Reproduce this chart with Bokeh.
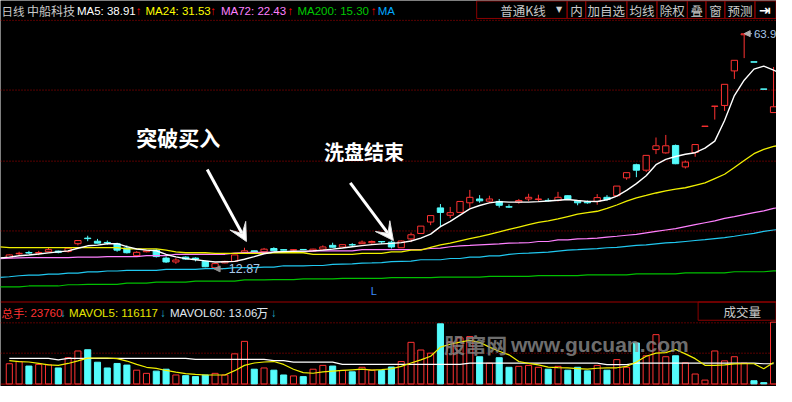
from bokeh.plotting import figure
from bokeh.models import Range1d, Label, Arrow, VeeHead, NormalHead
from bokeh.embed import file_html
from bokeh.resources import INLINE

# ---------------- data (price in yuan, volume in lots) ----------------
idx = list(range(79))
opens = [15.17, 16.05, 16.32, 16.21, 16.49, 16.63, 16.53, 18.24, 19.45, 18.78,
         18.51, 18.24, 17.32, 15.65, 16.49, 16.84, 15.11, 14.27, 15.32, 15.11,
         14.40, 13.02, 14.06, 14.40, 16.36, 16.69, 16.49, 17.19, 16.94, 16.84,
         16.99, 16.63, 17.05, 17.88, 17.53, 18.03, 18.24, 18.45, 18.72, 18.57,
         17.36, 19.28, 20.45, 22.95, 26.02, 24.42, 25.04, 27.13, 27.96, 27.48,
         27.42, 26.27, 27.28, 27.96, 27.84, 27.65, 27.63, 28.67, 27.48, 27.38,
         27.42, 28.32, 28.67, 32.55, 35.41, 34.22, 38.69, 37.98, 39.59, 34.93,
         38.06, 43.74, 48.10, 48.29, 55.80, 63.65, 57.78, 51.88, 46.74]
closes = [15.80, 16.15, 16.21, 16.32, 16.94, 16.36, 17.26, 18.93, 19.34, 18.36,
          18.41, 16.84, 16.28, 16.36, 16.69, 15.44, 14.27, 14.69, 14.90, 14.86,
          13.23, 13.91, 14.40, 15.80, 16.69, 16.36, 17.05, 16.69, 16.84, 16.94,
          16.94, 17.05, 17.53, 17.47, 18.03, 17.97, 18.57, 18.72, 18.63, 17.53,
          18.82, 20.18, 22.06, 24.35, 25.04, 24.98, 27.42, 28.32, 27.55, 27.96,
          26.59, 26.19, 27.63, 28.32, 27.96, 27.59, 28.32, 27.96, 27.13, 27.13,
          28.26, 27.84, 30.76, 33.68, 34.22, 37.44, 39.52, 39.52, 35.62, 35.98,
          39.79, 43.79, 48.14, 52.88, 58.10, 63.86, 57.70, 51.80, 48.00]
highs = [15.90, 16.49, 16.69, 16.69, 17.36, 16.74, 17.32, 19.03, 19.97, 19.28,
         18.93, 18.45, 17.88, 16.63, 16.84, 17.05, 15.44, 15.11, 15.48, 15.27,
         14.54, 14.02, 14.54, 15.80, 17.36, 16.74, 17.32, 17.47, 17.05, 17.05,
         17.05, 17.15, 17.88, 18.45, 18.09, 18.36, 18.93, 18.93, 18.72, 18.93,
         18.93, 20.66, 22.06, 24.35, 26.86, 26.23, 27.42, 29.93, 28.80, 28.67,
         27.96, 26.80, 27.96, 29.09, 28.88, 28.11, 29.51, 28.80, 27.63, 27.63,
         29.01, 28.80, 30.76, 33.68, 35.62, 37.44, 41.32, 41.88, 39.79, 36.31,
         39.79, 43.79, 48.14, 52.88, 58.10, 63.90, 57.78, 51.88, 56.64]
lows = [15.07, 15.65, 16.00, 15.73, 16.42, 16.15, 16.32, 17.88, 18.78, 18.30,
        18.03, 16.49, 16.11, 15.44, 16.36, 15.23, 14.06, 13.85, 14.75, 14.40,
        13.12, 12.87, 13.96, 14.34, 16.32, 16.32, 16.15, 16.63, 16.74, 16.63,
        16.84, 16.53, 16.94, 17.36, 17.47, 17.67, 18.20, 18.24, 18.15, 17.19,
        17.32, 18.57, 20.39, 22.27, 21.85, 23.79, 24.98, 26.02, 27.13, 27.13,
        26.09, 26.02, 26.92, 27.48, 27.48, 27.42, 27.42, 27.90, 26.59, 26.92,
        26.71, 27.63, 28.59, 32.14, 32.70, 33.81, 37.71, 37.81, 35.52, 34.58,
        37.14, 43.74, 45.22, 47.10, 54.05, 58.58, 57.70, 51.80, 46.68]

ma_idx = list(range(-1, 80))
ma5 = [15.11, 15.31, 15.63, 15.79, 16.00, 16.25, 16.46, 16.67, 17.26, 17.78,
       17.94, 18.22, 18.24, 17.61, 17.09, 16.84, 16.71, 15.90, 15.38, 15.00,
       14.75, 14.50, 14.25, 14.33, 14.40, 14.86, 15.42, 16.05, 16.42, 16.52,
       16.59, 16.63, 16.67, 16.84, 17.05, 17.30, 17.57, 17.82, 18.03, 18.19,
       18.30, 18.47, 18.82, 19.45, 20.32, 21.95, 23.10, 24.46, 25.81, 26.54,
       27.11, 27.38, 27.27, 27.27, 27.27, 27.38, 27.52, 27.69, 27.84, 27.63,
       27.44, 27.42, 27.79, 28.59, 29.82, 31.30, 33.01, 35.41, 36.56, 37.19,
       37.67, 38.02, 39.00, 40.53, 45.01, 50.44, 53.78, 56.18, 56.85, 55.97,
       55.03]
ma24 = [17.57, 17.40, 17.40, 17.40, 17.40, 17.40, 17.40, 17.40, 17.40, 17.40,
        17.40, 17.40, 17.40, 17.11, 17.11, 17.11, 17.11, 16.84, 16.48, 16.27,
        16.27, 16.27, 16.15, 16.15, 16.15, 16.15, 16.15, 16.15, 16.27, 16.27,
        16.27, 16.27, 15.94, 15.94, 15.94, 15.94, 15.94, 16.15, 16.15, 16.15,
        16.48, 16.48, 16.84, 16.84, 17.46, 17.99, 18.36, 18.86, 19.34, 19.76,
        20.28, 20.80, 21.33, 21.85, 22.37, 22.89, 23.20, 23.62, 24.14, 24.66,
        24.98, 25.29, 25.92, 26.65, 27.48, 28.21, 28.73, 29.26, 29.71, 30.09,
        30.40, 30.93, 31.45, 32.39, 33.33, 34.79, 36.31, 37.81, 38.75, 39.38,
        39.79]
ma72 = [14.96, 15.11, 15.17, 15.23, 15.23, 15.23, 15.23, 15.23, 15.32, 15.32,
        15.32, 15.44, 15.44, 15.44, 15.44, 15.65, 15.65, 15.65, 15.94, 15.94,
        15.94, 15.94, 15.94, 15.94, 16.21, 16.32, 16.36, 16.36, 16.42, 16.48,
        16.48, 16.48, 16.69, 16.69, 16.69, 16.69, 16.69, 16.94, 16.94, 16.94,
        16.94, 16.94, 16.94, 16.98, 17.19, 17.26, 17.57, 17.78, 17.88, 17.99,
        18.09, 18.19, 18.36, 18.40, 18.45, 18.72, 18.72, 19.07, 19.07, 19.28,
        19.34, 19.45, 19.66, 19.86, 20.07, 20.28, 20.59, 20.91, 21.22, 21.53,
        21.95, 22.37, 22.79, 23.20, 23.73, 24.14, 24.56, 24.98, 25.39, 25.92,
        26.23]
ma_cyan = [10.93, 11.06, 11.27, 11.41, 11.41, 11.62, 11.62, 11.83, 11.83, 12.10,
           12.10, 12.31, 12.31, 12.46, 12.46, 12.46, 12.46, 12.66, 12.66, 12.66,
           12.66, 12.81, 12.81, 12.81, 13.02, 13.02, 13.02, 13.14, 13.14, 13.44,
           13.44, 13.44, 13.50, 13.50, 13.75, 13.81, 13.85, 14.02, 14.06, 14.12,
           14.33, 14.40, 14.44, 14.75, 14.75, 14.75, 15.02, 15.02, 15.32, 15.32,
           15.59, 15.59, 15.90, 16.11, 16.21, 16.32, 16.42, 16.63, 16.84, 16.94,
           17.05, 17.15, 17.36, 17.46, 17.67, 17.88, 17.99, 18.19, 18.40, 18.51,
           18.72, 18.93, 19.13, 19.34, 19.55, 19.86, 20.18, 20.49, 20.91, 21.22,
           21.43]
ma200 = [8.84, 8.84, 8.84, 9.05, 9.05, 9.05, 9.05, 9.32, 9.32, 9.39,
         9.39, 9.39, 9.39, 9.68, 9.68, 9.68, 9.89, 9.89, 9.89, 9.89,
         10.10, 10.10, 10.10, 10.10, 10.10, 10.37, 10.37, 10.37, 10.43, 10.43,
         10.43, 10.58, 10.58, 10.58, 10.58, 10.72, 10.72, 10.72, 10.72, 10.72,
         10.85, 10.85, 10.85, 10.85, 10.85, 10.99, 10.99, 10.99, 10.99, 10.99,
         11.14, 11.14, 11.14, 11.14, 11.14, 11.31, 11.31, 11.31, 11.31, 11.31,
         11.47, 11.47, 11.47, 11.47, 11.47, 11.68, 11.68, 11.68, 11.68, 11.68,
         11.89, 11.89, 11.89, 11.89, 11.89, 12.14, 12.14, 12.14, 12.14, 12.35,
         12.35]

volume = [126000, 139800, 111600, 121800, 120000, 99600, 163800, 205800, 213600, 135600,
          99600, 127800, 117600, 85800, 66000, 79800, 91800, 55800, 51600, 45600,
          55800, 66000, 55800, 187800, 265800, 91800, 99600, 85800, 55800, 49800,
          45600, 91800, 115800, 111600, 84000, 75600, 103800, 85800, 84000, 105600,
          139800, 259800, 211800, 192000, 375600, 261600, 288000, 295800, 169800, 129600,
          163800, 103800, 109800, 115800, 103800, 91800, 109800, 85800, 103800, 81600,
          115800, 85800, 151800, 103800, 255600, 175800, 307800, 169800, 175800, 132000,
          61800, 23760, 205800, 144000, 169800, 129600, 19800, 7800, 385800]
mavol5 = [145800, 139800, 136800, 127800, 118800, 115800, 127800, 144000, 160800, 162000,
          162000, 157800, 142800, 121800, 103800, 96600, 84000, 73800, 64800, 60000,
          55800, 55800, 55800, 82800, 115800, 130800, 136800, 139800, 121800, 91800,
          70800, 66600, 75000, 79800, 84000, 88200, 91800, 85800, 88800, 94800,
          109800, 130800, 150000, 172800, 229800, 247800, 261600, 273000, 259800, 229800,
          204000, 181800, 139800, 127800, 118800, 105000, 102000, 99600, 96000, 91800,
          97800, 99600, 100800, 109800, 136800, 172800, 192000, 195600, 214800, 187800,
          157800, 116117, 115800, 118800, 124800, 126000, 126000, 94800, 133800]
mavol60 = [159600, 159600, 159600, 159600, 159600, 150000, 159600, 159600, 159600, 159600,
           159600, 159600, 159600, 159600, 159600, 159600, 159600, 159600, 159600, 153600,
           153600, 153600, 153600, 153600, 153600, 153600, 153600, 145800, 145800, 135600,
           135600, 135600, 135600, 135600, 121800, 121800, 121800, 121800, 121800, 121800,
           121800, 121800, 121800, 121800, 121800, 121800, 121800, 129600, 129600, 129600,
           129600, 129600, 129600, 129600, 129600, 129600, 129600, 129600, 129600, 129600,
           129600, 120000, 120000, 120000, 129600, 129600, 129600, 129600, 129600, 129600,
           129600, 130600, 129600, 129600, 129600, 129600, 129600, 126000, 126000]

header_ma = [("MA5: 38.91", "#ffffff"), ("MA24: 31.53", "#ffff00"),
             ("MA72: 22.43", "#ff80ff"), ("MA200: 15.30", "#00c800")]
buttons = ["内", "加自选", "均线", "除权", "叠", "窗", "预测"]

# ---------------- figure ----------------
RED = "#ff3232"
CYAN = "#54fcfc"
GRID = "#b00000"
DARK = "#8b0000"
CJK = "Noto Sans CJK SC"
LAT = "Liberation Sans"

p = figure(width=776, height=386, output_backend="svg", toolbar_location=None, tools="",
           x_range=Range1d(-0.9, 78.3), y_range=Range1d(-12.80, 71.10),
           x_axis_location=None, y_axis_location=None,
           background_fill_color="black", border_fill_color="black",
           min_border=0, outline_line_color=None)
p.grid.visible = False
p.extra_x_ranges = {"px": Range1d(0, 792)}
p.extra_y_ranges = {"px": Range1d(402, 0), "vol": Range1d(-16200, 2395800)}
PX = dict(x_range_name="px", y_range_name="px")

# frame chrome (layout in window pixels)
gy = [20.7, 93.3, 167.3, 240.0, 335.7, 367.3]
p.segment(x0=[0] * len(gy), x1=[792] * len(gy), y0=gy, y1=gy, line_color=GRID,
          line_dash="1 2", line_width=1, **PX)
p.segment(x0=[0, 0], x1=[792, 792], y0=[314.0, 399.5], y1=[314.0, 399.5],
          line_color="#a00000", line_width=1, **PX)
seps = [486, 578.3, 597.3, 639.3, 670, 701, 720, 739.3, 770, 791.5]
p.quad(left=seps[:-1], right=seps[1:], top=0.5, bottom=18.7, fill_color=None,
       line_color=DARK, line_width=1, **PX)
p.quad(left=[712], right=[791.5], top=[314], bottom=[333], fill_color=None,
       line_color=DARK, line_width=1, **PX)

# candles
up = [c >= o for o, c in zip(opens, closes)]
btop = [max(o, c) for o, c in zip(opens, closes)]
bbot = [min(o, c) for o, c in zip(opens, closes)]
for flag, col, fill in ((True, RED, "black"), (False, CYAN, CYAN)):
    xs = [i for i in idx if up[i] == flag]
    p.segment(x0=xs, x1=xs, y0=[highs[i] for i in xs], y1=[btop[i] for i in xs], line_color=col, line_width=1)
    p.segment(x0=xs, x1=xs, y0=[bbot[i] for i in xs], y1=[lows[i] for i in xs], line_color=col, line_width=1)
    p.vbar(x=xs, width=0.64, top=[btop[i] for i in xs], bottom=[bbot[i] for i in xs],
           fill_color=fill, line_color=col, line_width=1)

# moving averages
p.line(ma_idx, ma200, line_color="#00c000", line_width=1.2)
p.line(ma_idx, ma_cyan, line_color="#20c8f0", line_width=1.2)
p.line(ma_idx, ma72, line_color="#ff80ff", line_width=1.2)
p.line(ma_idx, ma24, line_color="#f0f000", line_width=1.3)
p.line(ma_idx, ma5, line_color="#ffffff", line_width=1.4)

# volume
for flag, col, fill in ((True, RED, "black"), (False, CYAN, CYAN)):
    xs = [i for i in idx if up[i] == flag]
    p.vbar(x=xs, width=0.62, top=[volume[i] for i in xs], bottom=0, y_range_name="vol",
           fill_color=fill, line_color=col, line_width=1)
p.line(idx, mavol60, line_color="#ffffff", line_width=1.2, y_range_name="vol")
p.line(idx, mavol5, line_color="#f0f000", line_width=1.2, y_range_name="vol")


def lab(x, y, text, color, size, font=LAT, align="left", style="normal", alpha=1.0):
    p.add_layout(Label(x=x, y=y, text=text, text_color=color, text_font_size=f"{size}px",
                       text_font=font, text_align=align, text_baseline="middle",
                       text_font_style=style, text_alpha=alpha, **PX))


# header
lab(1, 10.5, "日线", "#c8c8c8", 11.5, CJK)
lab(27, 10.5, "中船科技", "#c8c8c8", 12, CJK)
hx = [78, 148, 225, 303]
ax = [138, 214, 293, 378]
for (t, c), x0, x1 in zip(header_ma, hx, ax):
    lab(x0, 10.5, t, c, 11.5)
    lab(x1, 10.5, "↑", "#ff0000", 11.5)
lab(385, 10.5, "MA", "#00a8ff", 11.5)
lab(510, 10, "普通K线", "#c8c8c8", 12.5, CJK)
lab(570, 9.5, "▼", "#d0d0d0", 8, "DejaVu Sans", "center")
for t, l, r in zip(buttons, seps[1:-2], seps[2:-1]):
    lab((l + r) / 2, 10, t, "#c8c8c8", 12.5, CJK, "center")
lab(780, 10, "⇥", "#ffffff", 14, "DejaVu Sans", "center", "bold")

# volume header
lab(1, 325, "总手", "#ff3232", 11.5, CJK)
lab(24, 325, ": 23760", "#ff3232", 11.5)
lab(61, 325, "↓", "#20b0d0", 11.5)
lab(70, 325, "MAVOL5: 116117", "#e6e600", 11.5)
lab(163, 325, "↓", "#20b0d0", 11.5)
lab(173, 325, "MAVOL60: 13.06", "#e0e8f0", 11.5)
lab(261, 325, "万", "#e0e8f0", 12, CJK)
lab(276, 325, "↓", "#20b0d0", 11.5)
lab(757, 324, "成交量", "#c8c8c8", 12.5, CJK, "center")

# extremes
lab(233, 279.5, "12.87", "#a8c8e8", 12.5)
p.add_layout(Arrow(x_start=227, y_start=279.5, x_end=218, y_end=279.5, line_color="#909090",
                   line_width=1, end=NormalHead(size=6, fill_color="#909090", line_color="#909090"), **PX))
lab(769, 34.5, "63.9", "#a8c8e8", 11.5)
p.add_layout(Arrow(x_start=767, y_start=34.5, x_end=759, y_end=34.5, line_color="#b0b0b0",
                   line_width=1, end=NormalHead(size=6, fill_color="#b0b0b0", line_color="#b0b0b0"), **PX))
lab(378, 303, "L", "#3c8cff", 11)

# annotations
lab(181.5, 142.5, "突破买入", "#ffffff", 21, CJK, "center", "bold")
lab(371, 157.5, "洗盘结束", "#ffffff", 20, CJK, "center", "bold")
for xs_, ys_, xe_, ye_ in ((211, 176, 251, 251), (357, 190, 401, 250)):
    p.add_layout(Arrow(x_start=xs_, y_start=ys_, x_end=xe_, y_end=ye_, line_color="#ffffff",
                       line_width=3, end=VeeHead(size=18, fill_color="#ffffff", line_color="#e0e0e0"), **PX))

# watermark
lab(453, 358, "股窜网", "#8c8c8c", 21, CJK, "left", "bold", 0.8)
lab(521, 358, "www.gucuan.com", "#8c8c8c", 21, LAT, "left", "bold", 0.8)

open("out.html", "w").write(file_html(p, INLINE))
